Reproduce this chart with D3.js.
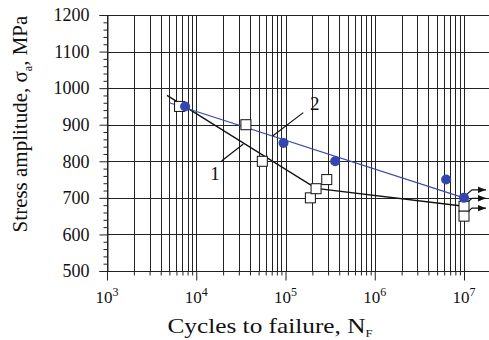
<!DOCTYPE html>
<html>
<head>
<meta charset="utf-8">
<script src="https://cdn.jsdelivr.net/npm/d3@7"></script>
<style>
  body { margin: 0; background: #fff; }
  text { font-family: "Liberation Serif", "DejaVu Serif", serif; fill: #111; }
</style>
</head>
<body>
<div id="chart"></div>
<script>
// series 1: open squares, series 2: blue dots
const s1N = [6.5e3, 3.6e4, 5.5e4, 1.9e5, 2.2e5, 2.9e5, 1e7, 1e7];
const s1S = [950, 900, 800, 700, 725, 750, 677, 650];
const s2N = [7.5e3, 9.5e4, 3.6e5, 6.3e6, 1e7];
const s2S = [950, 850, 800, 750, 700];

// fitted lines
const fit1N = [4.7e3, 2.2e5, 1e7];
const fit1S = [980, 726, 677];
const fit2N = [5e3, 1e7];
const fit2S = [960, 700];

// run-outs (no failure) at 1e7
const runoutN = [1e7, 1e7, 1e7];
const runoutS = [700, 677, 650];

const yTicks = [500, 600, 700, 800, 900, 1000, 1100, 1200];
const xDecades = [3, 4, 5, 6, 7];

const W = 489, H = 340;
const margin = { top: 15, left: 107, bottom: 69 };
const serif = "'Liberation Serif', 'DejaVu Serif', serif";

const svg = d3.select("#chart").append("svg")
    .attr("width", W)
    .attr("height", H);

const x = d3.scaleLog()
    .domain([1e3, 1e7])
    .range([margin.left, 464]);

const y = d3.scaleLinear()
    .domain([500, 1200])
    .range([H - margin.bottom, margin.top]);

const grid = svg.append("g").attr("stroke", "#222").attr("stroke-width", 1);

// vertical grid at every 1..9 x 10^k
const minor = [];
for (let k = 3; k < 7; k++) {
  for (let m = 1; m < 10; m++) minor.push(m * Math.pow(10, k));
}
minor.push(1e7);
const isDecade = d => Math.abs(Math.log10(d) - Math.round(Math.log10(d))) < 1e-9;

grid.selectAll(".vg")
  .data(minor)
  .join("line")
    .attr("x1", d => Math.round(x(d)) + 0.5)
    .attr("x2", d => Math.round(x(d)) + 0.5)
    .attr("y1", y(1200))
    .attr("y2", y(500));

grid.selectAll(".hg")
  .data(yTicks)
  .join("line")
    .attr("x1", x(1e3))
    .attr("x2", W)
    .attr("y1", d => Math.round(y(d)) + 0.5)
    .attr("y2", d => Math.round(y(d)) + 0.5);

// y axis
const yAxis = svg.append("g")
    .attr("transform", `translate(${Math.round(x(1e3)) + 0.5},0)`)
    .call(d3.axisLeft(y).tickValues(yTicks).tickSize(8).tickPadding(10).tickFormat(d3.format("d")))
    .attr("font-family", serif)
    .attr("font-size", 18);

const yMinor = d3.range(520, 1200, 20).filter(d => d % 100 !== 0);
svg.append("g")
    .attr("transform", `translate(${Math.round(x(1e3)) + 0.5},0)`)
  .call(d3.axisLeft(y).tickValues(yMinor).tickSize(4).tickFormat(""))
  .select(".domain").remove();

// x axis
const xAxis = svg.append("g")
    .attr("transform", `translate(0,${Math.round(y(500)) + 0.5})`)
    .call(d3.axisBottom(x).tickValues(minor.filter(isDecade)).tickSize(9).tickFormat(""));
xAxis.select(".domain").attr("d", `M${x(1e3)},0H${W}`);

svg.append("g")
    .attr("transform", `translate(0,${Math.round(y(500)) + 0.5})`)
  .call(d3.axisBottom(x).tickValues(minor.filter(d => !isDecade(d))).tickSize(4).tickFormat(""))
  .select(".domain").remove();

svg.selectAll(".tick line").attr("stroke", "#222");
svg.selectAll(".domain").attr("stroke", "#222");

const xl = svg.append("g").selectAll("text")
  .data(xDecades)
  .join("text")
    .attr("x", d => x(Math.pow(10, d)))
    .attr("y", 303)
    .attr("text-anchor", "middle")
    .attr("font-size", 17);
xl.append("tspan").text("10");
xl.append("tspan").attr("dy", -7).attr("font-size", 12).text(d => d);

// axis titles
const xt = svg.append("text")
    .attr("transform", "translate(270,333) scale(1.15,1)")
    .attr("text-anchor", "middle")
    .attr("font-size", 22);
xt.append("tspan").text("Cycles to failure, N");
xt.append("tspan").attr("dy", 4).attr("font-size", 11).text("F");

const yt = svg.append("text")
    .attr("transform", "translate(27,124) rotate(-90)")
    .attr("text-anchor", "middle")
    .attr("font-size", 21);
yt.append("tspan").text("Stress amplitude, σ");
yt.append("tspan").attr("dy", 5).attr("font-size", 12).text("a");
yt.append("tspan").attr("dy", -5).text(", MPa");

// fit lines
const line = d3.line().x(d => x(d[0])).y(d => y(d[1]));
svg.append("path")
    .datum(d3.zip(fit1N, fit1S))
    .attr("d", line)
    .attr("fill", "none")
    .attr("stroke", "#111")
    .attr("stroke-width", 1.4);
svg.append("path")
    .datum(d3.zip(fit2N, fit2S))
    .attr("d", line)
    .attr("fill", "none")
    .attr("stroke", "#3b49a8")
    .attr("stroke-width", 1.1);

// run-out leaders with arrows
svg.append("defs").append("marker")
    .attr("id", "arr")
    .attr("viewBox", "0 0 10 10")
    .attr("refX", 10).attr("refY", 5)
    .attr("markerWidth", 7).attr("markerHeight", 7)
    .attr("orient", "auto")
  .append("path").attr("d", "M0,1L10,5L0,9Z").attr("fill", "#111");

svg.append("g").selectAll("path")
  .data(d3.zip(runoutN, runoutS))
  .join("path")
    .attr("d", d => {
      const px = x(d[0]), py = y(d[1]);
      return `M${px + 1},${py - 2}L${px + 8},${py - 8}L${px + 22},${py - 8}`;
    })
    .attr("fill", "none")
    .attr("stroke", "#111")
    .attr("stroke-width", 1.2)
    .attr("marker-end", "url(#arr)");

// squares
svg.append("g").selectAll("rect")
  .data(d3.zip(s1N, s1S))
  .join("rect")
    .attr("x", d => x(d[0]) - 5)
    .attr("y", d => y(d[1]) - 5)
    .attr("width", 10)
    .attr("height", 10)
    .attr("fill", "#fff")
    .attr("stroke", "#111")
    .attr("stroke-width", 1);

// dots
svg.append("g").selectAll("circle")
  .data(d3.zip(s2N, s2S))
  .join("circle")
    .attr("cx", d => x(d[0]))
    .attr("cy", d => y(d[1]))
    .attr("r", 5)
    .attr("fill", "#3346b0");

// curve labels with leaders
const labels = [
  { t: "1", tx: 1.62e4, ty: 748, from: [1.92e4, 801], to: [3.37e4, 847] },
  { t: "2", tx: 2.13e5, ty: 940, from: [1.58e5, 933], to: [7.18e4, 869] }
];
labels.forEach(l => {
  svg.append("line")
      .attr("x1", x(l.from[0])).attr("y1", y(l.from[1]))
      .attr("x2", x(l.to[0])).attr("y2", y(l.to[1]))
      .attr("stroke", "#111")
      .attr("stroke-width", 1.2);
  svg.append("text")
      .attr("x", x(l.tx))
      .attr("y", y(l.ty))
      .attr("text-anchor", "middle")
      .attr("font-size", 19)
      .text(l.t);
});
</script>
</body>
</html>
